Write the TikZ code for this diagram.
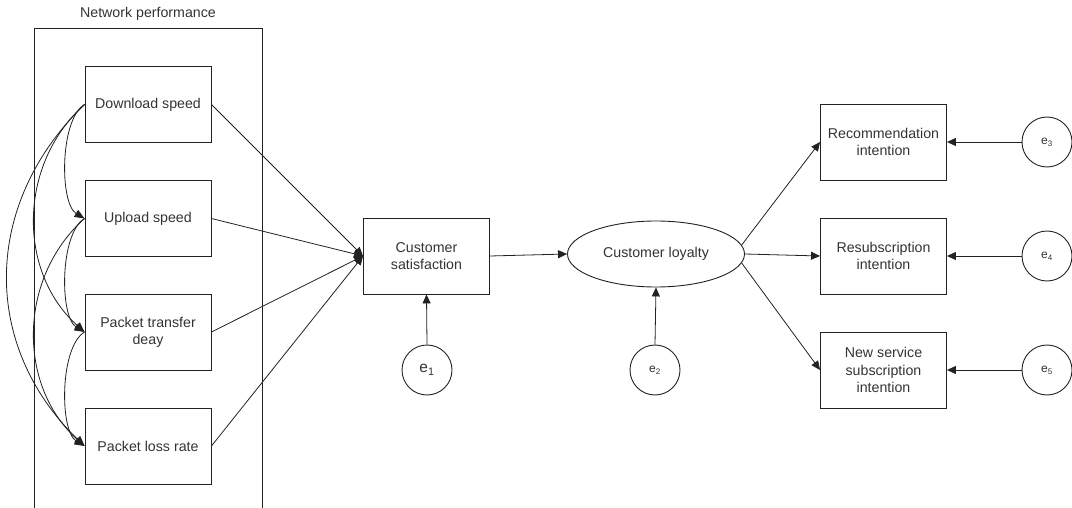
\documentclass[tikz,border=0pt]{standalone}
\usepackage{fontspec}
\setmainfont{Liberation Sans}
\usetikzlibrary{arrows.meta,shapes.geometric}
\definecolor{ink}{HTML}{222222}
\definecolor{txt}{HTML}{333333}
\begin{document}
\begin{tikzpicture}[x=1pt,y=-1pt,
  lbl/.style={text=txt,font=\fontsize{14.2}{17.3}\selectfont,align=center,inner sep=0pt},
  box/.style={lbl,draw=ink,line width=0.9pt,minimum width=126pt,minimum height=76pt},
  oval/.style={lbl,draw=ink,line width=0.9pt,ellipse,minimum width=177pt,minimum height=66pt},
  err/.style={lbl,draw=ink,line width=0.9pt,circle,minimum size=50pt},
  link/.style={draw=ink,line width=0.8pt,-{Triangle[length=9pt,width=8pt]}},
  cov/.style={draw=ink,line width=0.8pt,-{Triangle[length=10pt,width=8pt]}}
]
\useasboundingbox (0,0) rectangle (1072,508);

% exogenous block
\node[lbl] (np) at (148,14) {Network performance};
\draw[ink,line width=0.9pt] (34,508) -- (34,28) -- (262,28) -- (262,508);

\node[box] (ds) at (148,104.5) {Download speed};
\node[box] (us) at (148,218.5) {Upload speed};
\node[box] (pt) at (148,332) {Packet transfer\\deay};
\node[box] (pl) at (148,446) {Packet loss rate};

% mediators
\node[box] (cs) at (426.5,256) {Customer\\satisfaction};
\node[oval] (cl) at (656,254) {Customer loyalty};
\node[err,font=\fontsize{15.5}{17}\selectfont] (e1) at (427,370) {e\textsubscript{1}};
\node[err,font=\fontsize{12}{14}\selectfont] (e2) at (655,370) {e\textsubscript{2}};

% outcomes
\node[box] (rec) at (883.5,142) {Recommendation\\intention};
\node[box] (res) at (883.5,256) {Resubscription\\intention};
\node[box] (nss) at (883.5,370) {New service\\subscription\\intention};
\node[err,font=\fontsize{12}{14}\selectfont] (e3) at (1047,142) {e\textsubscript{3}};
\node[err,font=\fontsize{12}{14}\selectfont] (e4) at (1047,256) {e\textsubscript{4}};
\node[err,font=\fontsize{12}{14}\selectfont] (e5) at (1047,370) {e\textsubscript{5}};

% correlations among network indicators
\draw[cov] (ds.west) .. controls +(-25,15) and +(-25,-15) .. (us.west);
\draw[cov] (ds.west) .. controls +(-67,60) and +(-67,-60) .. (pt.west);
\draw[cov] (ds.west) .. controls +(-103,100) and +(-103,-100) .. (pl.west);
\draw[cov] (us.west) .. controls +(-25,15) and +(-25,-15) .. (pt.west);
\draw[cov] (us.west) .. controls +(-67,60) and +(-67,-60) .. (pl.west);
\draw[cov] (pt.west) .. controls +(-25,15) and +(-25,-15) .. (pl.west);

% structural paths
\draw[link] (ds.east) -- (cs.west);
\draw[link] (us.east) -- (cs.west);
\draw[link] (pt.east) -- (cs.west);
\draw[link] (pl.east) -- (cs.west);
\draw[link] (cs.east) -- (cl.west);
\draw[link] (e1.north) -- (cs.south);
\draw[link] (e2.north) -- (cl.south);
\draw[link] (cl.6) -- (rec.west);
\draw[link] (cl.east) -- (res.west);
\draw[link] (cl.-6) -- (nss.west);
\draw[link] (e3.west) -- (rec.east);
\draw[link] (e4.west) -- (res.east);
\draw[link] (e5.west) -- (nss.east);
\end{tikzpicture}
\end{document}
